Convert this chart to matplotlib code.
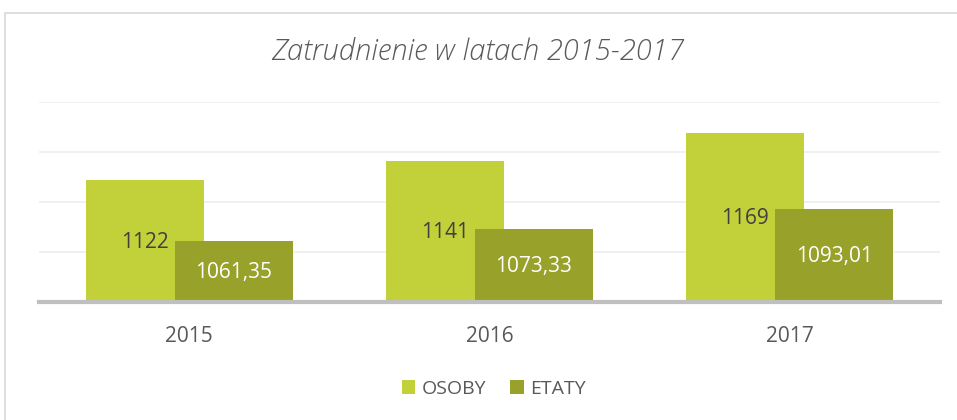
import matplotlib as mpl
mpl.use('Agg')
import numpy as np
import matplotlib.pyplot as plt
from matplotlib.patches import Rectangle

lata = ['2015', '2016', '2017']
osoby = [1122, 1141, 1169]
etaty = [1061.35, 1073.33, 1093.01]
etaty_txt = ['1061,35', '1073,33', '1093,01']

c_osoby = '#C2D03A'
c_etaty = '#98A12A'
szary = '#595959'

plt.rcParams['font.family'] = ['Open Sans', 'DejaVu Sans']

fig = plt.figure(figsize=(9.57, 4.2), dpi=100)
fig.patches.append(Rectangle((5 / 957, -0.1), 1.1, (420 - 13) / 420 + 0.1,
                             transform=fig.transFigure, fill=False,
                             edgecolor='#D9D9D9', linewidth=1.2))
ax = fig.add_axes([39 / 957, 118 / 420, 901 / 957, 200 / 420])

x = np.arange(len(lata))
w = 0.393
off = 0.148
b1 = ax.bar(x - off, np.array(osoby) - 1000, w, bottom=1000, color=c_osoby, label='OSOBY', zorder=2)
b2 = ax.bar(x + off, np.array(etaty) - 1000, w, bottom=1000, color=c_etaty, label='ETATY', zorder=3)

for i in range(len(lata)):
    ax.text(x[i] - off, (1000 + osoby[i]) / 2 - 1.5, str(osoby[i]), ha='center', va='center',
            fontsize=15, color='#404040', zorder=4)
    ax.text(x[i] + off, (1000 + etaty[i]) / 2 - 1, etaty_txt[i], ha='center', va='center',
            fontsize=15, color='white', zorder=4)

ax.set_xlim(-0.5, 2.5)
ax.set_ylim(1000, 1200)
ax.set_yticks([1050, 1100, 1150, 1200])
ax.yaxis.grid(True, color='#EDEDED', linewidth=1.2, zorder=0)
ax.set_axisbelow(True)
ax.tick_params(axis='y', left=False, labelleft=False)
ax.tick_params(axis='x', bottom=False, labelsize=15, colors=szary, pad=14)
ax.set_xticks(x)
ax.set_xticklabels(lata)
for s in ['top', 'right', 'left']:
    ax.spines[s].set_visible(False)
ax.spines['bottom'].set_color('#BFBFBF')
ax.spines['bottom'].set_linewidth(3)
ax.spines['bottom'].set_zorder(5)

fig.text(0.499, 368 / 420, 'Zatrudnienie w latach 2015-2017', ha='center', va='center',
         fontsize=21, style='italic', fontweight='light', color=szary)

fig.legend(handles=[b1, b2], loc='center', bbox_to_anchor=(0.516, 31 / 420), ncol=2,
           frameon=False, fontsize=14, labelcolor=szary, handlelength=0.7,
           handleheight=0.7, handletextpad=0.35, columnspacing=1.2)

fig.savefig('out.png', dpi=100)
